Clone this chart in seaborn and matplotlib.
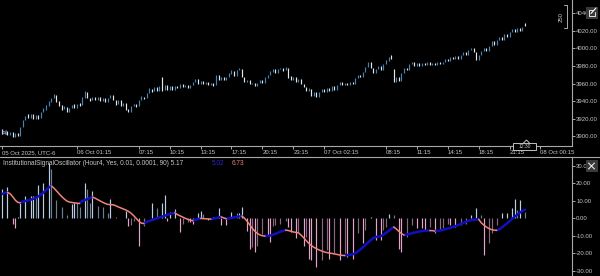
import numpy as np
import pandas as pd
import matplotlib
matplotlib.use("Agg")
import matplotlib.pyplot as plt
import seaborn as sns
from matplotlib.lines import Line2D
from matplotlib.patches import Rectangle

# ---------------- data ----------------
bar_open = [
    3908, 3902, 3906, 3901, 3905, 3899, 3904, 3900, 3910, 3918,
    3925, 3921, 3925, 3920, 3924, 3921, 3927, 3930, 3934, 3939,
    3943, 3947, 3940, 3935, 3931, 3933, 3928, 3932, 3937, 3932,
    3938, 3935, 3944, 3950, 3944, 3941, 3945, 3941, 3945, 3940,
    3944, 3939, 3944, 3947, 3941, 3937, 3941, 3934, 3938, 3931,
    3928, 3934, 3937, 3934, 3941, 3945, 3943, 3949, 3954, 3951,
    3956, 3952, 3968, 3953, 3958, 3953, 3957, 3953, 3957, 3955,
    3959, 3956, 3958, 3955, 3958, 3962, 3965, 3960, 3963, 3959,
    3962, 3958, 3961, 3958, 3970, 3964, 3968, 3964, 3968, 3971,
    3974, 3969, 3975, 3977, 3967, 3962, 3964, 3959, 3961, 3957,
    3961, 3964, 3961, 3966, 3970, 3973, 3976, 3972, 3977, 3978,
    3975, 3978, 3969, 3964, 3967, 3962, 3965, 3960, 3956, 3951,
    3954, 3946, 3950, 3945, 3950, 3954, 3950, 3955, 3952, 3957,
    3953, 3958, 3962, 3958, 3961, 3958, 3962, 3960, 3966, 3970,
    3967, 3973, 3979, 3985, 3978, 3972, 3976, 3980, 3975, 3982,
    3986, 3992, 3976, 3962, 3967, 3963, 3972, 3978, 3975, 3982,
    3985, 3980, 3983, 3980, 3983, 3981, 3984, 3981, 3983, 3981,
    3984, 3982, 3985, 3988, 3986, 3990, 3988, 3991, 3988, 3992,
    3996, 3993, 3998, 4000, 3996, 3987, 3993, 3997, 4001, 3997,
    4003, 4008, 4004, 4010, 4013, 4010, 4016, 4013, 4019, 4022,
    4019, 4023, 4020, 4029,
]
bar_close = [
    3902, 3906, 3901, 3905, 3899, 3904, 3900, 3910, 3918, 3923,
    3921, 3925, 3920, 3924, 3920, 3928, 3932, 3935, 3940, 3944,
    3948, 3939, 3934, 3930, 3934, 3927, 3932, 3936, 3932, 3937,
    3934, 3945, 3951, 3944, 3940, 3945, 3941, 3945, 3940, 3944,
    3939, 3943, 3947, 3941, 3936, 3941, 3934, 3938, 3930, 3927,
    3934, 3937, 3933, 3941, 3946, 3942, 3949, 3955, 3950, 3956,
    3952, 3957, 3952, 3958, 3953, 3957, 3953, 3957, 3955, 3959,
    3956, 3958, 3955, 3958, 3962, 3965, 3960, 3963, 3959, 3962,
    3958, 3961, 3957, 3970, 3964, 3968, 3964, 3968, 3972, 3975,
    3969, 3975, 3978, 3967, 3962, 3964, 3959, 3961, 3957, 3961,
    3964, 3961, 3967, 3970, 3974, 3976, 3972, 3977, 3978, 3974,
    3979, 3966, 3964, 3967, 3962, 3965, 3960, 3956, 3951, 3955,
    3946, 3950, 3945, 3950, 3954, 3950, 3955, 3952, 3957, 3953,
    3958, 3962, 3958, 3961, 3958, 3962, 3960, 3966, 3970, 3967,
    3973, 3979, 3985, 3978, 3972, 3976, 3980, 3975, 3982, 3987,
    3990, 3988, 3962, 3967, 3963, 3972, 3978, 3975, 3982, 3985,
    3980, 3983, 3980, 3983, 3981, 3984, 3981, 3983, 3981, 3984,
    3982, 3985, 3988, 3986, 3990, 3988, 3991, 3988, 3992, 3996,
    3993, 3998, 4001, 3996, 3987, 3993, 3997, 4001, 3997, 4003,
    4008, 4004, 4010, 4013, 4010, 4016, 4013, 4019, 4022, 4019,
    4023, 4020, 4025, 4026,
]
osc_hist = [
    17.1, 0, 17.7, 0, -3.2, -5.7, 0.8, 9.0, 0, 12.8,
    0, 12.8, 12.8, 12.4, 19.2, 0, 20.0, 0, 31.4, 28.0,
    0, 10.5, 0, 6.3, 0, 1.9, 0, 8.0, 9.0, 8.6,
    6.7, 0, 20.0, 16.6, 8.6, 15.8, 0, 7.0, 0, 6.7,
    0, 3.2, 10.9, 0, 1.0, 0, 0.4, 0, 4.2, -4.4,
    -3.8, -1.5, 0, -15.8, 0, -4.4, 0, 0, 9.0, 0,
    6.1, 0, 8.6, 13.3, -1.3, 3.8, 0, 5.3, 0, -7.6,
    -2.9, 0, -1.9, -1.9, -2.9, 0, 2.9, 4.4, 2.3, 0,
    -0.8, 0, 0.8, 0, 5.7, -3.8, 0, -3.8, 0, 3.8,
    0, 2.9, 2.9, 6.7, 0, -7.0, -17.7, -16.6, -19.0, -15.8,
    0, -9.0, 0, -9.5, -13.3, -4.4, -3.8, 0, -2.9, 0,
    -1.3, -4.8, -7.6, 0, -11.4, -7.6, 0, -15.8, -10.5, -22.9,
    -23.8, 0, -28.0, 0, -23.8, 0, -18.1, -22.9, 0, -20.0,
    0, -23.8, 0, -20.0, -21.9, 0, -22.9, 0, -8.6, 0,
    -14.3, -6.7, 0, 0.6, 0, -12.4, 0, -12.4, -6.7, -4.8,
    2.5, 0, 1.9, 0, -17.7, -19.0, 0, -10.5, 0, -3.8,
    0, -5.7, 0, -5.7, -6.7, 0, -4.8, 0, -8.6, 0,
    -6.7, -5.7, 0, -2.9, -3.8, 0, -4.8, 0, -3.8, 0,
    -2.9, 0, 1.9, 0, 5.7, 0, 1.9, -21.0, 0, -14.3,
    -8.6, 0, -3.8, 0, 2.9, 0, 2.9, 0, 5.7, 10.9,
    4.8, 10.5, 0, 3.8,
]
osc_line = [
    14.0, 14.6, 14.8, 14.2, 12.5, 10.5, 9.2, 8.9, 9.6, 10.0,
    10.3, 10.7, 11.2, 11.8, 12.6, 13.6, 14.8, 16.2, 17.6, 18.6,
    17.4, 15.8, 14.2, 12.6, 11.2, 10.0, 9.4, 9.1, 8.9, 8.7,
    8.6, 10.0, 10.5, 11.0, 11.6, 12.2, 11.6, 10.8, 10.0, 9.2,
    8.5, 8.0, 7.9, 7.8, 7.3, 6.6, 6.0, 5.4, 4.8, 4.0,
    3.0, 1.6, 0.0, -1.6, -2.7, -2.9, -2.0, -1.5, -1.0, -0.5,
    0.0, 0.5, 1.0, 1.5, 2.0, 2.5, 2.9, 3.2, 2.2, 1.5,
    0.8, 0.1, -0.5, -1.0, -1.3, -0.8, -0.4, 0.0, -0.1, -0.2,
    -0.3, -0.4, -0.2, 0.2, 0.6, 0.9, 0.3, -0.2, 0.0, 0.3,
    0.6, 0.9, 1.1, 1.3, 0.2, -1.5, -3.5, -5.5, -7.2, -8.5,
    -9.4, -9.9, -10.1, -10.0, -9.8, -9.4, -8.8, -8.2, -7.6, -7.1,
    -6.7, -6.9, -7.3, -7.7, -8.0, -8.2, -9.5, -11.0, -12.6, -14.2,
    -15.5, -16.5, -17.3, -18.0, -18.6, -19.1, -19.5, -19.8, -20.0, -20.3,
    -20.6, -20.9, -21.1, -21.2, -21.0, -20.8, -20.5, -20.0, -19.0, -17.8,
    -16.5, -15.2, -13.8, -12.5, -11.3, -10.6, -10.4, -10.1, -9.3, -8.3,
    -7.2, -6.0, -4.9, -6.0, -7.4, -8.6, -9.5, -9.2, -8.9, -8.5,
    -8.1, -7.8, -7.5, -7.2, -7.1, -7.0, -6.9, -7.0, -7.2, -7.1,
    -6.9, -6.6, -6.2, -5.8, -5.4, -4.9, -4.4, -3.8, -3.2, -2.6,
    -2.0, -1.4, -1.0, -0.8, -0.6, -0.5, -2.5, -3.8, -4.9, -5.8,
    -6.4, -6.7, -6.8, -6.2, -5.2, -4.0, -2.8, -1.6, -0.3, 1.0,
    2.2, 3.3, 4.3, 5.0,
]
time_ticks = [0, 29, 53, 65, 77, 89, 101, 113, 125, 149, 161, 173, 185, 197, 209]
time_labels = ["05 Oct 2025, UTC-6", "06 Oct 01:15", "07:15", "10:15", "13:15",
               "17:15", "20:15", "23:15", "07 Oct 02:15", "08:15", "11:15",
               "14:15", "18:15", "21:15", "08 Oct 00:15"]
price_ticks = [3900, 3920, 3940, 3960, 3980, 4000, 4020, 4040]
osc_ticks = [-30, -20, -10, 0, 10, 20, 30]
header_text = "InstitutionalSignalOscillator (Hour4, Yes, 0.01, 0.0001, 90) 5.17"
value_up_text = "5.02"
value_down_text = "6.73"
scale_text = "250"
marker_text = "12:30"

n = len(bar_close)
assert len(bar_open) == n and len(osc_hist) == n and len(osc_line) == n

# ---------------- style ----------------
sns.set_theme(style="dark", rc={
    "figure.facecolor": "black", "axes.facecolor": "black",
    "savefig.facecolor": "black", "axes.grid": False,
})
plt.rcParams["font.family"] = ["Liberation Sans", "DejaVu Sans"]

W, H = 600, 276
FS = 4.3
AXC = "#a8a8a8"
TXT = "#c8c8c8"
UPC, DNC = "#4682b4", "#e6e6e6"
LINE_UP, LINE_DN = "#1010bf", "#f08478"
POS_HI, POS_LO = "#b9cde6", "#6d7f93"
NEG_HI, NEG_LO = "#e4a4cc", "#8a6680"

fig = plt.figure(figsize=(W / 100, H / 100), dpi=100, facecolor="black")


def fx(x):
    return x / W


def fy(y):
    return 1 - y / H


def px_axes(x0, y0, x1, y1):
    return fig.add_axes([fx(x0), fy(y1), (x1 - x0) / W, (y1 - y0) / H])


ax1 = px_axes(0, 0, 572, 146)
ax2 = px_axes(0, 157, 572, 276)

X0, DX = 2.3, 2.575
xlim = (-X0 / DX, (572 - X0) / DX)
idx = np.arange(n)

# ---------------- price panel ----------------
o = np.array(bar_open, float)
c = np.array(bar_close, float)
up = c >= o
ax1.vlines(idx[up], o[up], c[up], colors=UPC, linewidth=0.85)
ax1.vlines(idx[~up], o[~up], c[~up], colors=DNC, linewidth=0.85)
ax1.set_xlim(*xlim)
ax1.set_ylim(3888.6, 4055.4)

for sp in ["left", "top"]:
    ax1.spines[sp].set_visible(False)
for sp in ["right", "bottom"]:
    ax1.spines[sp].set_color(AXC)
    ax1.spines[sp].set_linewidth(0.8)
ax1.yaxis.tick_right()
ax1.set_yticks(price_ticks)
ax1.set_yticklabels([f"{v:.2f}" for v in price_ticks])
ax1.set_xticks(time_ticks)
ax1.set_xticklabels(time_labels)
for lab in ax1.get_xticklabels():
    lab.set_horizontalalignment("left")
ax1.tick_params(axis="both", colors=AXC, labelcolor=TXT, labelsize=FS,
                length=1.8, width=0.7, pad=1.2, direction="out")
ax1.tick_params(axis="y", right=True, left=False)
ax1.tick_params(axis="x", bottom=True)
ax1.set_xlabel("")
ax1.set_ylabel("")

# ---------------- oscillator panel ----------------
h = np.array(osc_hist, float)
cols = []
prev = 0.0
for v in h:
    if v >= 0:
        bright = prev < 0 or abs(v) >= abs(prev)
        cols.append(POS_HI if bright else POS_LO)
    else:
        bright = prev > 0 or abs(v) >= abs(prev)
        cols.append(NEG_HI if bright else NEG_LO)
    if v != 0:
        prev = v
cols = np.array(cols)
nz = h != 0
ax2.vlines(idx[nz], 0, h[nz], colors=cols[nz], linewidth=0.85)

# colored signal line: blue while rising, salmon while falling
y = np.array(osc_line, float)
rows = []
seg = 0
cur = None
for k in range(1, n):
    d = "up" if y[k] >= y[k - 1] else "down"
    if d != cur:
        seg += 1
        cur = d
        rows.append((k - 1, y[k - 1], seg, d))
    rows.append((k, y[k], seg, d))
df = pd.DataFrame(rows, columns=["x", "y", "seg", "dir"])
sns.lineplot(data=df, x="x", y="y", hue="dir", size="dir", units="seg",
             estimator=None, sort=False, ax=ax2, legend=False,
             palette={"up": LINE_UP, "down": LINE_DN},
             sizes={"up": 1.8, "down": 1.1})

ax2.set_xlim(*xlim)
ax2.set_ylim(-32.9, 35.1)
for sp in ["left", "bottom", "top"]:
    ax2.spines[sp].set_visible(False)
ax2.spines["right"].set_color(AXC)
ax2.spines["right"].set_linewidth(0.8)
ax2.yaxis.tick_right()
ax2.set_yticks(osc_ticks)
ax2.set_yticklabels([f"{v:.2f}" for v in osc_ticks])
ax2.set_xticks([])
ax2.tick_params(axis="y", colors=AXC, labelcolor=TXT, labelsize=FS,
                length=1.8, width=0.7, pad=1.2, right=True, left=False)
ax2.set_xlabel("")
ax2.set_ylabel("")

# separator line between panels
fig.add_artist(Line2D([fx(0), fx(600)], [fy(157), fy(157)],
                      transform=fig.transFigure, color=AXC, lw=0.8))

# ---------------- texts ----------------
fig.text(fx(3), fy(163.5), header_text, fontsize=4.7, color=TXT, va="center", ha="left")
fig.text(fx(212), fy(163.5), value_up_text, fontsize=4.7, color="#2a2ad0", va="center", ha="left")
fig.text(fx(232), fy(163.5), value_down_text, fontsize=4.7, color="#f08478", va="center", ha="left")

# scale marker "250" with bracket
fig.text(fx(561), fy(17), scale_text, fontsize=FS, color=TXT, rotation=90,
         va="center", ha="center")
fig.add_artist(Line2D([fx(564), fx(566.5), fx(566.5), fx(564)],
                      [fy(5), fy(5), fy(27.5), fy(27.5)],
                      transform=fig.transFigure, color=TXT, lw=0.6))

# edit icon (top right)
fig.add_artist(Rectangle((fx(585.5), fy(19)), 12 / W, 12 / H, transform=fig.transFigure,
                         facecolor="#3a3a3a", edgecolor="none"))
fig.add_artist(Line2D([fx(593), fx(588.5), fx(588.5), fx(594.5), fx(594.5)],
                      [fy(9.5), fy(9.5), fy(16), fy(16), fy(12)],
                      transform=fig.transFigure, color="white", lw=0.6))
fig.add_artist(Line2D([fx(591), fx(596)], [fy(13.5), fy(8)],
                      transform=fig.transFigure, color="white", lw=0.8))

# close icon (oscillator panel)
fig.add_artist(Rectangle((fx(585.5), fy(172)), 12 / W, 12 / H, transform=fig.transFigure,
                         facecolor="#3a3a3a", edgecolor="none"))
fig.add_artist(Line2D([fx(588.5), fx(594.5)], [fy(163), fy(169)],
                      transform=fig.transFigure, color="white", lw=0.7))
fig.add_artist(Line2D([fx(588.5), fx(594.5)], [fy(169), fy(163)],
                      transform=fig.transFigure, color="white", lw=0.7))

# chart-shift marker on the time strip
fig.add_artist(Rectangle((fx(513), fy(150)), 23 / W, 7 / H, transform=fig.transFigure,
                         facecolor="black", edgecolor="#dcdcdc", lw=0.6))
fig.text(fx(524.5), fy(146.6), marker_text, fontsize=3.6, color=TXT, va="center", ha="center")
fig.add_artist(Line2D([fx(523.5), fx(526.5), fx(529.5)], [fy(143), fy(140), fy(143)],
                      transform=fig.transFigure, color="#dcdcdc", lw=0.6))

# tiny toolbar glyph at top-left of time strip
fig.text(fx(2), fy(133), "[\u2261]", fontsize=3.6, color="#9fb4d8", va="center", ha="left")

fig.savefig("out.png", dpi=100, facecolor="black")
